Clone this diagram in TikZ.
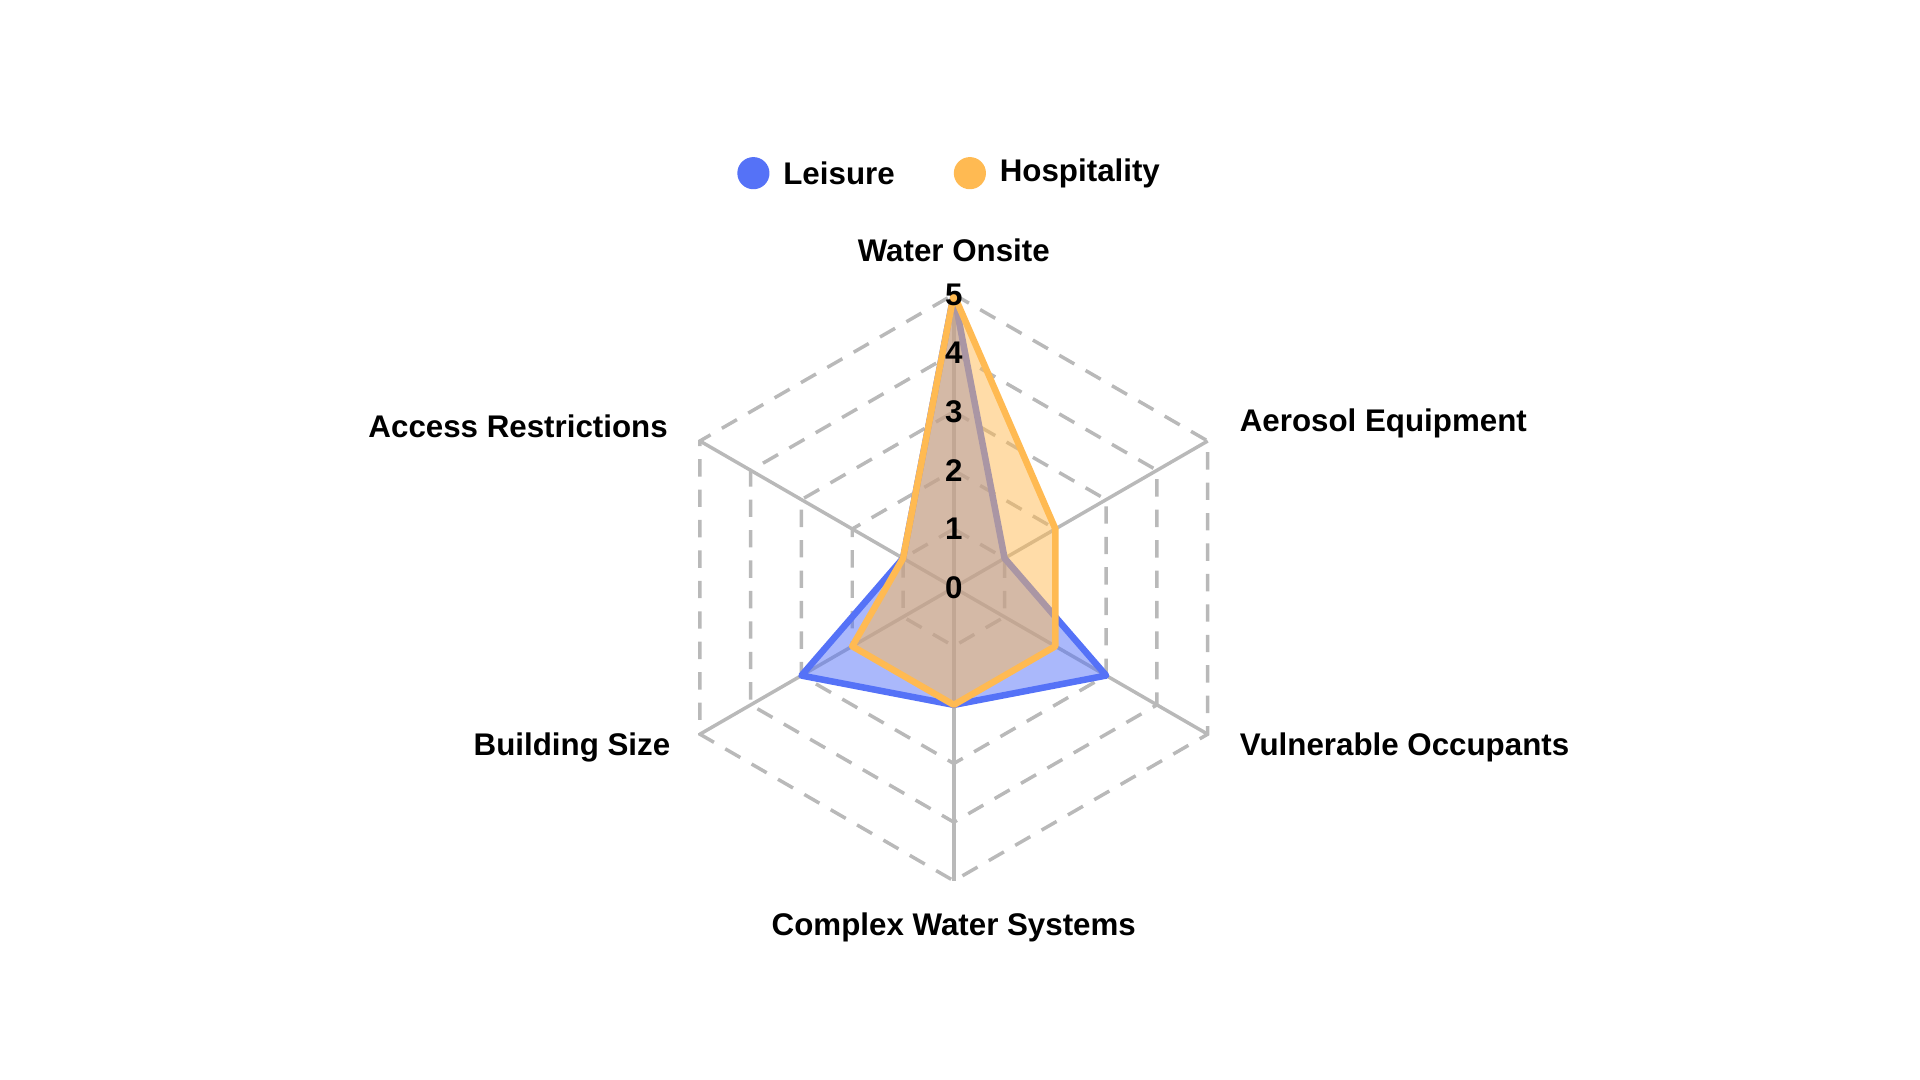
\documentclass[tikz,border=0pt]{standalone}
\usepackage{fontspec}
\setmainfont{Liberation Sans}
\usetikzlibrary{positioning,calc}
\definecolor{leisure}{HTML}{5572F7}
\definecolor{hosp}{HTML}{FFBA52}
\tikzset{ring/.style = {draw=gray!55, dashed, dash pattern=on 4pt off 3pt, line width=0.8pt},
         spoke/.style = {draw=gray!55, line width=0.8pt},
         axislabel/.style = {font=\fontsize{7.2}{8}\selectfont\bfseries, inner sep=1pt},
         ticklabel/.style = {font=\fontsize{7.2}{8}\selectfont\bfseries, inner sep=0pt}}
\begin{document}
\begin{tikzpicture}
\useasboundingbox (0,0) rectangle (15.52,8.73);
\coordinate (c) at (7.71,3.98);
\foreach \a [count=\i] in {90,30,-30,-90,-150,150} {
  \foreach \k in {1,...,5} {
    \coordinate (p\i-\k) at ($(c)+(\a:0.474*\k)$);
  }
}
% rings and spokes
\foreach \k in {1,...,5} {
  \draw[ring] (p1-\k) -- (p2-\k) -- (p3-\k) -- (p4-\k) -- (p5-\k) -- (p6-\k) -- cycle;
}
\foreach \i in {1,...,6} {
  \draw[spoke] (c) -- (p\i-5);
}
% data
\draw[leisure, line width=1.5pt, fill=leisure, fill opacity=0.5, line join=round]
  (p1-5) -- (p2-1) -- (p3-3) -- (p4-2) -- (p5-3) -- (p6-1) -- cycle;
\draw[hosp, line width=1.5pt, fill=hosp, fill opacity=0.5, line join=round]
  (p1-5) -- (p2-2) -- (p3-2) -- (p4-2) -- (p5-2) -- (p6-1) -- cycle;
% ticks
\node[ticklabel] (t0) at (c) {0};
\foreach \k in {1,...,5} {
  \node[ticklabel] (t\k) at (p1-\k) {\k};
}
% axis labels
\node[axislabel] (water) at (7.71,6.71) {Water Onsite};
\node[axislabel, anchor=west] (aero) at (9.98,5.31) {Aerosol Equipment};
\node[axislabel, anchor=west] (vuln) at (9.98,2.69) {Vulnerable Occupants};
\node[axislabel] (cws) at (7.71,1.23) {Complex Water Systems};
\node[axislabel, anchor=east] (bsize) at (5.46,2.69) {Building Size};
\node[axislabel, anchor=east] (access) at (5.44,5.28) {Access Restrictions};
% legend
\fill[leisure] (6.09,7.33) circle (0.13);
\node[axislabel, anchor=west] (legL) at (6.29,7.33) {Leisure};
\fill[hosp] (7.84,7.33) circle (0.13);
\node[axislabel, anchor=west] (legH) at (8.04,7.33) {Hospitality};
\end{tikzpicture}
\end{document}
